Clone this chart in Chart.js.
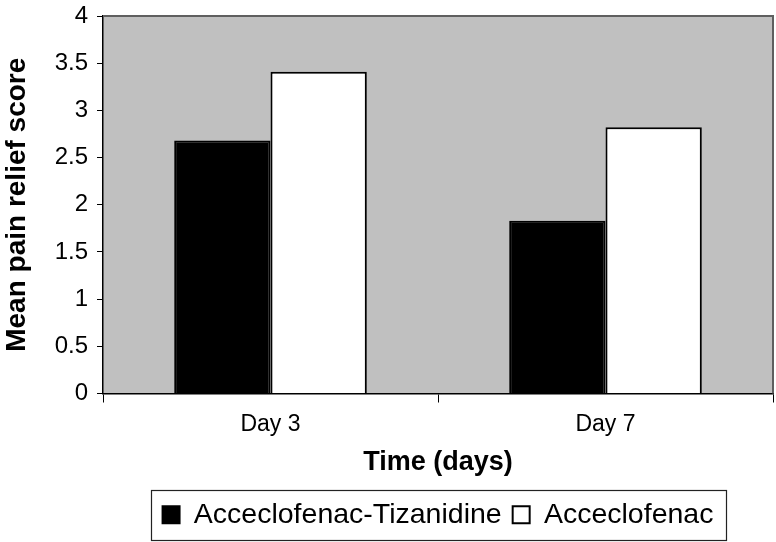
<!DOCTYPE html>
<html>
<head>
<meta charset="utf-8">
<script src="https://cdn.jsdelivr.net/npm/chart.js@4"></script>
<style>
html,body{margin:0;padding:0;background:#fff;}
#wrap{width:776px;height:542px;}
</style>
</head>
<body>
<div id="wrap"><canvas id="c" width="776" height="542"></canvas></div>
<script>
const categories = ["Day 3", "Day 7"];
const comboValues = [2.68, 1.83];
const singleValues = [3.41, 2.82];
const seriesNames = ["Acceclofenac-Tizanidine", "Acceclofenac"];
const yTitle = "Mean pain relief score";
const xTitle = "Time (days)";

const FONT = "'Liberation Sans', Arial, Helvetica, sans-serif";

const bgPlugin = {
  id: 'bg',
  beforeDraw(chart) {
    const a = chart.chartArea, ctx = chart.ctx;
    ctx.save();
    ctx.fillStyle = '#C0C0C0';
    ctx.fillRect(a.left, a.top, a.right - a.left, a.bottom - a.top);
    ctx.restore();
  },
  afterDraw(chart) {
    const a = chart.chartArea, ctx = chart.ctx;
    ctx.save();
    ctx.strokeStyle = '#5f5f5f';
    ctx.lineWidth = 2;
    ctx.beginPath();
    ctx.moveTo(a.left, a.top);
    ctx.lineTo(a.right, a.top);
    ctx.lineTo(a.right, a.bottom);
    ctx.stroke();
    const lg = chart.legend;
    if (lg && lg.legendHitBoxes && lg.legendHitBoxes.length) {
      const hb = lg.legendHitBoxes;
      let l = Infinity, r = -Infinity, t = Infinity, b = -Infinity;
      hb.forEach(h => { l = Math.min(l, h.left); r = Math.max(r, h.left + h.width); t = Math.min(t, h.top); b = Math.max(b, h.top + h.height); });
      const cy = (t + b) / 2;
      ctx.strokeStyle = '#222';
      ctx.lineWidth = 1.2;
      ctx.strokeRect(Math.round(l - 12) + 0.5, Math.round(cy - 25) + 0.5, Math.round(r - l + 24), 50);
    }
    ctx.restore();
  }
};

new Chart(document.getElementById('c'), {
  type: 'bar',
  data: {
    labels: categories,
    datasets: [
      { label: seriesNames[0], data: comboValues, backgroundColor: '#000', borderColor: '#000', borderWidth: 2 },
      { label: seriesNames[1], data: singleValues, backgroundColor: '#fff', borderColor: '#000', borderWidth: 2 }
    ]
  },
  options: {
    responsive: false,
    animation: false,
    devicePixelRatio: 1,
    layout: { padding: { left: 0, right: 3, top: 16, bottom: 3 } },
    datasets: { bar: { categoryPercentage: 0.575, barPercentage: 1.0 } },
    plugins: {
      tooltip: { enabled: false },
      legend: {
        position: 'bottom',
        fullSize: false,
        labels: {
          font: { family: FONT, size: 28.5 },
          color: '#000',
          boxWidth: 17,
          boxHeight: 17,
          padding: 11
        }
      }
    },
    scales: {
      x: {
        grid: { display: true, drawOnChartArea: false, drawTicks: true, tickLength: 9, color: '#000', offset: true },
        border: { display: true, color: '#000', width: 1.5 },
        ticks: { color: '#000', font: { family: FONT, size: 23 }, padding: 8 },
        title: { display: true, text: xTitle, color: '#000', font: { family: FONT, size: 27, weight: 'bold' }, padding: { top: 0, bottom: 11 } },
        afterFit(scale) { scale.height = 96; scale.paddingLeft = 0; scale.paddingRight = 0; }
      },
      y: {
        min: 0, max: 4,
        ticks: { stepSize: 0.5, color: '#000', font: { family: FONT, size: 24 }, padding: 9, callback: (v) => String(v) },
        grid: { display: true, drawOnChartArea: false, drawTicks: true, tickLength: 6, color: '#000' },
        border: { display: true, color: '#000', width: 1.5 },
        title: { display: true, text: yTitle, color: '#000', font: { family: FONT, size: 28, weight: 'bold' }, padding: { top: 0, bottom: 0 } },
        afterFit(scale) { scale.width = 103; scale.paddingTop = 0; scale.paddingBottom = 0; }
      }
    }
  },
  plugins: [bgPlugin]
});
</script>
</body>
</html>
